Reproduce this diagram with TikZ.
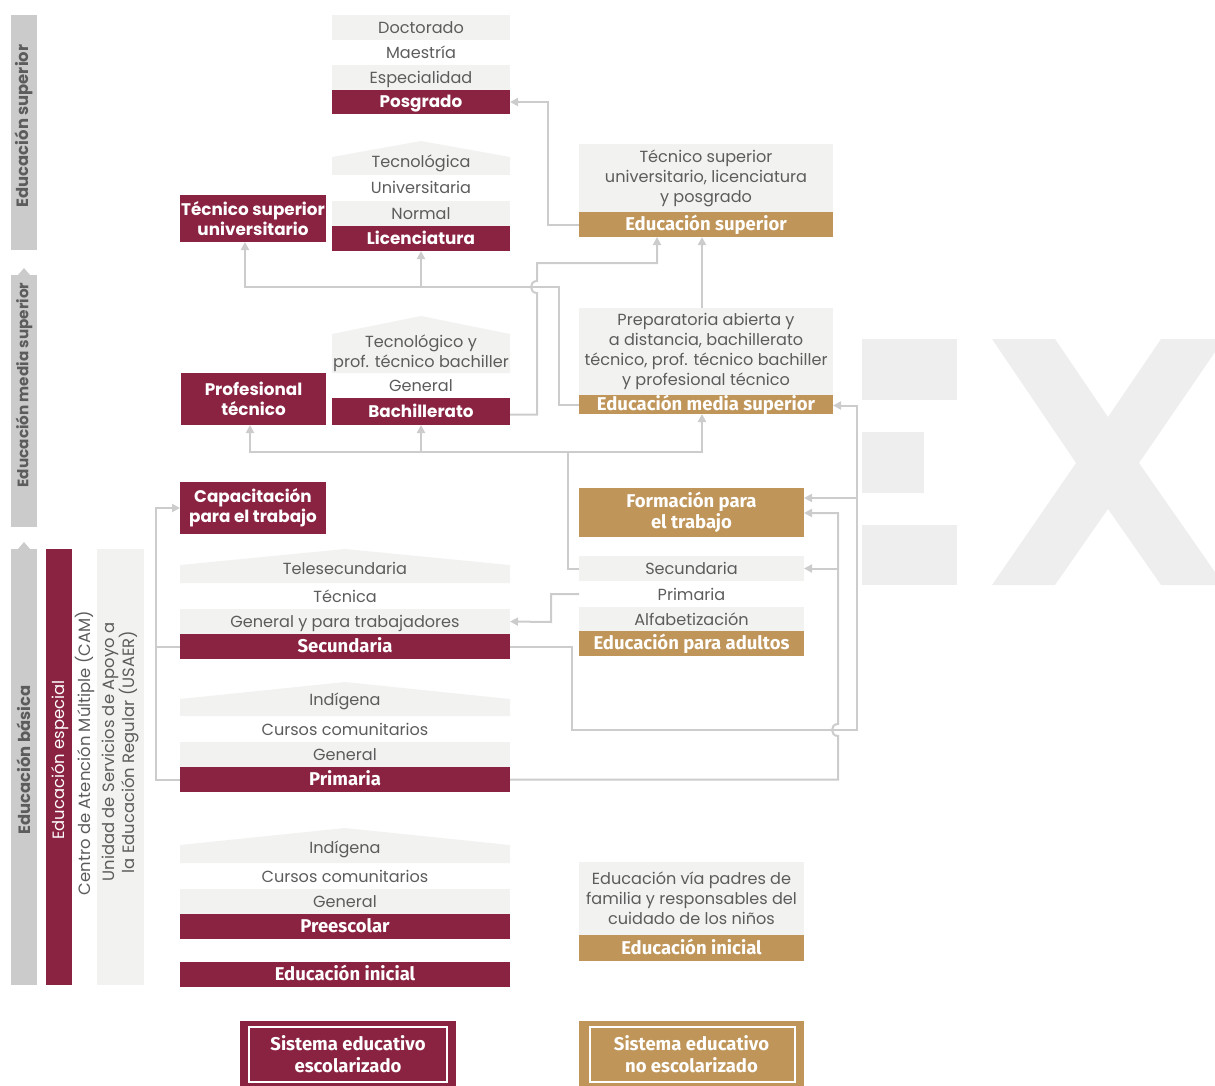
\documentclass[tikz,border=0pt]{standalone}
\usepackage{fontspec}
\setmainfont{Poppins}
\newfontfamily\condfont{Fira Sans}
\usetikzlibrary{arrows.meta,calc}
\definecolor{maroon}{HTML}{8A2342}
\definecolor{gold}{HTML}{BF9559}
\definecolor{band}{HTML}{F2F2F1}
\definecolor{txtgray}{HTML}{5C5C5C}
\definecolor{linegray}{HTML}{CCCCCC}
\definecolor{bargray}{HTML}{CBCBCB}
\definecolor{exgray}{HTML}{EEEEEE}
\newcommand\myg{\fontsize{16.1}{20}\selectfont}
\newcommand\mym{\fontsize{16.8}{20}\selectfont\bfseries}
\newcommand\myc{\condfont\fontsize{18.5}{21}\selectfont\bfseries}
\begin{document}
\begin{tikzpicture}[x=1pt,y=-1pt,
  every node/.style={inner sep=0pt,outer sep=0pt},
  gt/.style={text=txtgray,font=\myg,align=center},
  gb/.style={fill=band},
  sl/.style={text height=13pt,text depth=1pt},
  mb/.style={fill=maroon,text=white,font=\mym,align=center},
  mc/.style={fill=maroon,text=white,font=\myc,align=center},
  gdb/.style={fill=gold,text=white,font=\myc,align=center},
  conn/.style={draw=linegray,line width=2pt},
  arr/.style={-{Triangle[length=8pt,width=8pt]}},
  bartxt/.style={rotate=90,font=\fontsize{16.4}{20}\selectfont\bfseries,text=txtgray},
  rg/.style={rotate=90,font=\fontsize{16.4}{20}\selectfont,align=center}
]
\useasboundingbox (0,0) rectangle (1215,1086);
% watermark
\begin{scope}
\clip (0,0) rectangle (1215,1086);
\fill[exgray] (862,339) rectangle (957,400);
\fill[exgray] (862,432) rectangle (924,493);
\fill[exgray] (862,525) rectangle (957,585);
\fill[exgray] (992,339) -- (1055,339) -- (1108,417) -- (1161,339) -- (1224,339) -- (1139,463) -- (1224,585) -- (1161,585) -- (1108,509) -- (1055,585) -- (992,585) -- (1076,463) -- cycle;
\end{scope}
% left bars
\node[fill=bargray,minimum width=26,minimum height=235] (lsup) at (24,132.5) {};
\node[bartxt] (lsupt) at (24,126) {Educación superior};
\fill[bargray] (18,275) -- (24,268) -- (30,275) -- cycle;
\node[fill=bargray,minimum width=26,minimum height=252] (lems) at (24,401) {};
\node[bartxt,font=\fontsize{15.2}{20}\selectfont\bfseries] (lemst) at (24,385) {Educación media superior};
\fill[bargray] (18,549) -- (24,542) -- (30,549) -- cycle;
\node[fill=bargray,minimum width=26,minimum height=436] (lbas) at (24,767) {};
\node[bartxt] (lbast) at (24,760) {Educación básica};
\node[fill=maroon,minimum width=26,minimum height=436] (lesp) at (59,767) {};
\node[rg,text=white] (lespt) at (60,760) {Educación especial};
\node[rg,text=txtgray] (cam) at (85,753) {Centro de Atención Múltiple (CAM)};
\node[fill=band,minimum width=47,minimum height=436] (usaer) at (120.5,767) {};
\node[rg,text=txtgray] (usaert) at (120.5,752) {Unidad de Servicios de Apoyo a\\la Educación Regular (USAER)};
% Posgrado column
\node[gb,gt,sl,minimum width=178,minimum height=25] (doct) at (421,27.5) {Doctorado};
\node[gt,sl,minimum width=178,minimum height=25] (maes) at (421,52.5) {Maestría};
\node[gb,gt,sl,minimum width=178,minimum height=25] (espe) at (421,77.5) {Especialidad};
\node[mb,sl,minimum width=178,minimum height=24] (posg) at (421,102) {Posgrado};
% Licenciatura column
\fill[band] (332,157) -- (421,141) -- (510,157) -- (510,175) -- (332,175) -- cycle;
\node[gt,sl] (tecno) at (421,162) {Tecnológica};
\node[gt,sl,minimum width=178,minimum height=26] (univ) at (421,188) {Universitaria};
\node[gb,gt,sl,minimum width=178,minimum height=25] (norm) at (421,213.5) {Normal};
\node[mb,sl,minimum width=178,minimum height=25] (lic) at (421,238.5) {Licenciatura};
\node[mb,minimum width=146,minimum height=47] (tsu) at (253,218.5) {Técnico superior\\universitario};
% Educacion superior (no escolarizado)
\node[gb,gt,minimum width=254,minimum height=68] (esupg) at (706,178) {Técnico superior\\universitario, licenciatura\\y posgrado};
\node[gdb,sl,minimum width=254,minimum height=25] (esup) at (706,224.5) {Educación superior};
\node[gb,gt,font=\fontsize{16.1}{19.7}\selectfont,minimum width=254,minimum height=87] (emsg) at (706,351.5) {Preparatoria abierta y\\a distancia, bachillerato\\técnico, prof. técnico bachiller\\y profesional técnico};
\node[gdb,sl,minimum width=254,minimum height=19] (ems) at (706,404.5) {Educación media superior};
% Bachillerato column
\fill[band] (332,334) -- (421,316) -- (510,334) -- (510,373) -- (332,373) -- cycle;
\node[gt] (btec) at (421,353) {Tecnológico y\\prof. técnico bachiller};
\node[gt,sl,minimum width=178,minimum height=25] (bgen) at (421,385.5) {General};
\node[mb,sl,minimum width=178,minimum height=27] (bach) at (421,411.5) {Bachillerato};
\node[mb,minimum width=145,minimum height=52] (protec) at (253.5,399) {Profesional\\técnico};
\node[mb,minimum width=146,minimum height=52] (cap) at (253,508) {Capacitación\\para el trabajo};
% adultos
\node[gdb,minimum width=225,minimum height=49] (ftrab) at (691.5,512.5) {Formación para\\el trabajo};
\node[gb,gt,sl,minimum width=225,minimum height=25] (asec) at (691.5,568.5) {Secundaria};
\node[gt,sl,minimum width=225,minimum height=25] (aprim) at (691.5,594) {Primaria};
\node[gb,gt,sl,minimum width=225,minimum height=24] (aalf) at (691.5,619) {Alfabetización};
\node[gdb,sl,minimum width=225,minimum height=25] (aed) at (691.5,643.5) {Educación para adultos};
% Secundaria column
\fill[band] (180,565) -- (345,549) -- (510,565) -- (510,583) -- (180,583) -- cycle;
\node[gt,sl] (telesec) at (345,568) {Telesecundaria};
\node[gt,sl,minimum width=330,minimum height=26] (stec) at (345,596) {Técnica};
\node[gb,gt,sl,minimum width=330,minimum height=25] (genytrab) at (345,621.5) {General y para trabajadores};
\node[mc,sl,minimum width=330,minimum height=25] (sec) at (345,646.5) {Secundaria};
% Primaria column
\fill[band] (180,699) -- (345,682) -- (510,699) -- (510,716) -- (180,716) -- cycle;
\node[gt,sl] (pind) at (345,699) {Indígena};
\node[gt,sl,minimum width=330,minimum height=26] (pcc) at (345,729) {Cursos comunitarios};
\node[gb,gt,sl,minimum width=330,minimum height=25] (pgen) at (345,754.5) {General};
\node[mc,sl,minimum width=330,minimum height=25] (prim) at (345,779.5) {Primaria};
% Preescolar column
\fill[band] (180,845) -- (345,828) -- (510,845) -- (510,863) -- (180,863) -- cycle;
\node[gt,sl] (preind) at (345,847) {Indígena};
\node[gt,sl,minimum width=330,minimum height=26] (precc) at (345,876) {Cursos comunitarios};
\node[gb,gt,sl,minimum width=330,minimum height=25] (pregen) at (345,901.5) {General};
\node[mc,sl,minimum width=330,minimum height=25] (pre) at (345,926.5) {Preescolar};
\node[mc,sl,minimum width=330,minimum height=25] (einic) at (345,974.5) {Educación inicial};
% Educacion inicial no escolarizada
\node[gb,gt,minimum width=225,minimum height=73] (padres) at (691.5,898.5) {Educación vía padres de\\familia y responsables del\\cuidado de los niños};
\node[gdb,sl,minimum width=225,minimum height=26] (einicg) at (691.5,948) {Educación inicial};
% legend
\node[mc,font=\condfont\fontsize{18.5}{22}\selectfont\bfseries,minimum width=216,minimum height=67] (leg1) at (348,1054) {Sistema educativo\\escolarizado};
\draw[white,line width=1.5pt] (249,1027) rectangle (447,1082);
\node[gdb,font=\condfont\fontsize{18.5}{22}\selectfont\bfseries,minimum width=225,minimum height=67] (leg2) at (691.5,1054) {Sistema educativo\\no escolarizado};
\draw[white,line width=1.5pt] (590,1027) rectangle (795,1082);
% connectors
\draw[conn,arr] (esup.west) -| (548,102) -- (posg.east);
\draw[conn,arr] ($(bach.east)+(0,3)$) -- (537,414.5) -- (537,293) .. controls (529,293) and (529,281) .. (537,281) -- (537,263) -- (657,263) -- ($(esup.south)+(-49,0)$);
\draw[conn,arr] (ems.west) -- (559,404.5) -- (559,287) -- (245,287) -- ($(tsu.south)+(-8,0)$);
\draw[conn,arr] (421,287) -- (lic.south);
\draw[conn,arr] (asec.west) -- (568,568.5) -- (568,452) -- (250,452) -- ($(protec.south)+(-3.5,0)$);
\draw[conn,arr] (421,452) -- (bach.south);
\draw[conn,arr] (568,452) -- (702,452) -- ($(ems.south)+(-4,0)$);
\draw[conn,arr] ($(emsg.north)+(-4,0)$) -- ($(esup.south)+(-4,0)$);
\draw[conn,arr] (sec.east) -- (572,646.5) -- (572,730) -- (857,730) -- (857,405.5) -- ($(ems.east)+(0,1)$);
\draw[conn,arr] (857,498) -- (ftrab.east |- 0,498);
\draw[conn,arr] (prim.east) -- (838,779.5) -- (838,736) .. controls (830,736) and (830,724) .. (838,724) -- (838,513) -- (ftrab.east |- 0,513);
\draw[conn,arr] (838,568.5) -- (asec.east);
\draw[conn,arr] (aprim.west) -- (551,594) -- (551,622) -- (genytrab.east);
\draw[conn,arr] (prim.west) -- (156,779.5) -- (156,508) -- (cap.west);
\draw[conn] (sec.west) -- (156,646.5);
\end{tikzpicture}
\end{document}
